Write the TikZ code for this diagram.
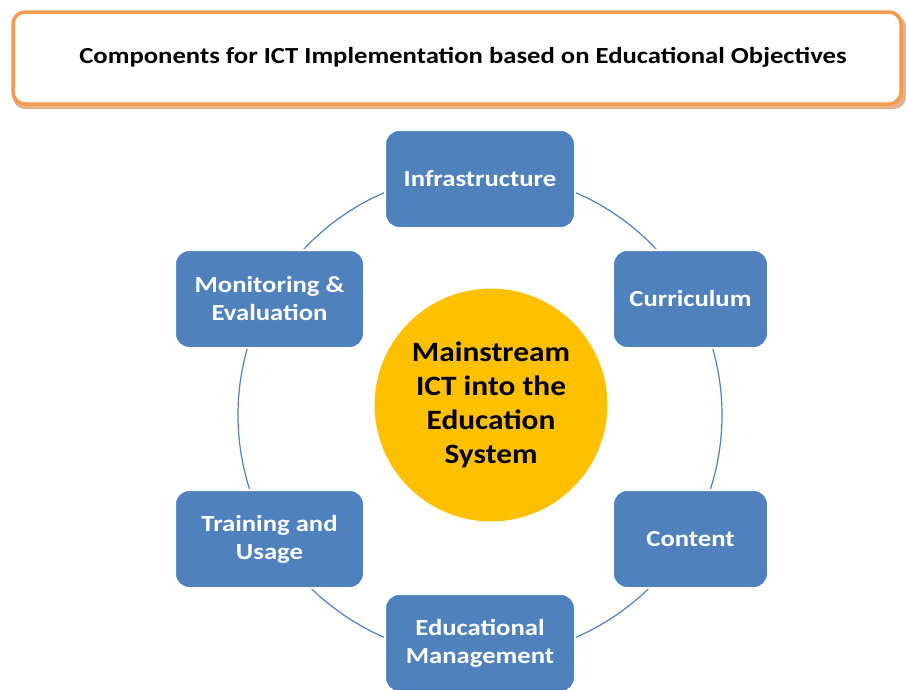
\documentclass[tikz,border=0pt]{standalone}
\usepackage{fontspec}
\setmainfont{Carlito}
\newfontfamily\widefont[FakeStretch=1.16]{Carlito}
\newfontfamily\hubfont[FakeStretch=1.12]{Carlito}
\definecolor{boxblue}{HTML}{4F81BD}
\definecolor{hubgold}{HTML}{FFC000}
\definecolor{titleorange}{HTML}{F39A4E}
\definecolor{shadoworange}{HTML}{C8742E}
\begin{document}
\begin{tikzpicture}[x=1pt,y=-1pt,
  comp/.style={rectangle, rounded corners=14pt, fill=boxblue, draw=white, line width=2pt,
    text=white, font=\widefont\fontsize{23}{28}\selectfont\bfseries, align=center, inner sep=0pt},
  hub/.style={circle, fill=hubgold, draw=white, line width=1pt, minimum size=234pt, inner sep=0pt,
    text=black, font=\hubfont\fontsize{28}{34}\selectfont\bfseries, align=center},
  ring/.style={draw=boxblue, line width=1.2pt},
  titlebox/.style={rectangle, rounded corners=12pt, draw=titleorange, line width=3.5pt, fill=white,
    minimum width=888pt, minimum height=92pt, inner sep=0pt},
  titletext/.style={inner sep=0pt, font=\widefont\fontsize{23}{28}\selectfont\bfseries}
]
\useasboundingbox (0,0) rectangle (906,689);
% title
\fill[shadoworange, opacity=0.55, rounded corners=12pt] (13,15) rectangle (906,109);
\node[titlebox] (title) at (457,58) {};
\node[titletext] (titlelabel) at (463,57) {Components for ICT Implementation based on Educational Objectives};
% ring
\coordinate (ringc) at (480,415);
\draw[ring] (ringc) circle (242pt);
% hub
\node[hub] (hub) at (491,405) {Mainstream\\ICT into the\\Education\\System};
% components
\node[comp, minimum width=190pt, minimum height=98pt] (infra) at (480,179) {Infrastructure};
\node[comp, minimum width=155pt, minimum height=98pt] (curr) at (690.5,299) {Curriculum};
\node[comp, minimum width=155pt, minimum height=98pt] (cont) at (690.5,539) {Content};
\node[comp, minimum width=190pt, minimum height=98pt] (mgmt) at (480,643) {Educational\\Management};
\node[comp, minimum width=189pt, minimum height=98pt] (train) at (269.5,539) {Training and\\Usage};
\node[comp, minimum width=189pt, minimum height=98pt] (monit) at (269.5,299) {Monitoring \&\\Evaluation};
\end{tikzpicture}
\end{document}
